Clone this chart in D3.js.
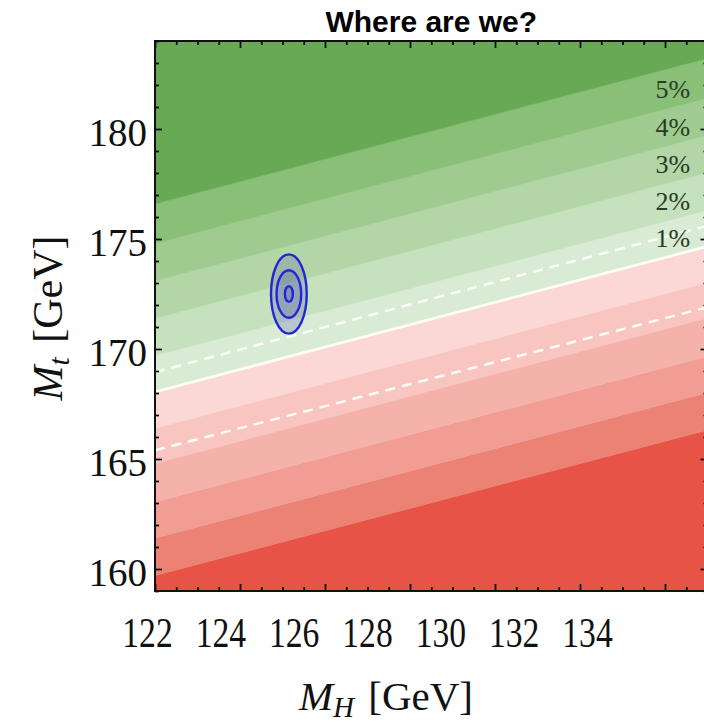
<!DOCTYPE html>
<html>
<head>
<meta charset="utf-8">
<script src="https://cdn.jsdelivr.net/npm/d3@7/dist/d3.min.js"></script>
<style>
  body { margin: 0; background: #fff; }
  svg { display: block; }
</style>
</head>
<body>
<svg id="chart" width="704" height="725"></svg>
<script>
// axis values
const mhDomain = [122, 135];
const mtDomain = [159, 184];
const mhTicks = [122, 124, 126, 128, 130, 132, 134];
const mtTicks = [160, 165, 170, 175, 180];

// contour lines: Mt at MH = 122, all with the same slope dMt/dMH
const contourSlope = 0.509;
const contourMtAt122 = [159.7, 161.4, 163.05, 164.8, 166.4, 168.05, 169.7, 171.4, 173.1, 174.8, 176.6];
const zeroContour = 5;
// band fills from bottom (red) to top (green)
const bandColors = ["#e75445", "#ec8273", "#f19d93", "#f5b2ab", "#f8c5c1", "#fbd7d5",
                    "#d9ebd4", "#c6e1bd", "#b3d6a6", "#a0cb90", "#89bf76", "#68aa54"];
const percentLabels = ["1%", "2%", "3%", "4%", "5%"];

// dashed uncertainty lines, Mt at MH = 122 and MH = 135
const dashedMtAt122 = [168.95, 165.4];
const dashedMtAt135 = [175.6, 171.9];

// measured point and its ellipses (half widths in GeV)
const pointMH = 125.15;
const pointMt = 172.5;
const ellipseRadMH = [0.42, 0.29, 0.094];
const ellipseRadMt = [1.8, 1.08, 0.36];

const svg = d3.select("#chart");

const x = d3.scaleLinear().domain(mhDomain).range([155, 707.5]);
const y = d3.scaleLinear().domain(mtDomain).range([591, 41]);
// the tick labels in the picture sit on their own, narrower spacing
const xLabel = d3.scaleLinear().domain([122, 134]).range([147, 587]);

const contourAt = (i, mh) => contourMtAt122[i] + contourSlope * (mh - 122);

svg.append("clipPath").attr("id", "plotclip")
  .append("rect")
  .attr("x", x(mhDomain[0])).attr("y", y(mtDomain[1]))
  .attr("width", x(mhDomain[1]) - x(mhDomain[0]))
  .attr("height", y(mtDomain[0]) - y(mtDomain[1]));

const plot = svg.append("g").attr("clip-path", "url(#plotclip)");

const poly = d3.line().x(d => x(d[0])).y(d => y(d[1]));

bandColors.forEach((c, i) => {
  const lo = mh => i === 0 ? mtDomain[0] - 10 : contourAt(i - 1, mh);
  const hi = mh => i === bandColors.length - 1 ? mtDomain[1] + 10 : contourAt(i, mh);
  const pts = [[mhDomain[0], lo(mhDomain[0])], [mhDomain[1], lo(mhDomain[1])],
               [mhDomain[1], hi(mhDomain[1])], [mhDomain[0], hi(mhDomain[0])]];
  plot.append("path")
    .attr("d", poly(pts) + "Z")
    .attr("fill", c)
    .attr("stroke", c)
    .attr("stroke-width", 0.6);
});

// zero line
plot.append("path")
  .attr("d", poly([[mhDomain[0], contourAt(zeroContour, mhDomain[0])],
                   [mhDomain[1], contourAt(zeroContour, mhDomain[1])]]))
  .attr("stroke", "#fdfdf6")
  .attr("stroke-width", 2.8)
  .attr("fill", "none");

dashedMtAt122.forEach((v, i) => {
  plot.append("path")
    .attr("d", poly([[mhDomain[0], v], [mhDomain[1], dashedMtAt135[i]]]))
    .attr("stroke", "#fdfdf8")
    .attr("stroke-width", 2.5)
    .attr("stroke-dasharray", "10,7")
    .attr("fill", "none");
});

// percent labels, each sitting in its band near the right edge
percentLabels.forEach((t, k) => {
  plot.append("text")
    .attr("x", x(134.59))
    .attr("y", y(contourAt(zeroContour + k, 134.59) + 0.58))
    .attr("text-anchor", "end")
    .attr("dominant-baseline", "central")
    .attr("font-family", "Liberation Serif, serif")
    .attr("font-size", 26)
    .attr("fill", "#263c26")
    .text(t);
});

// ellipses
ellipseRadMH.forEach((r, i) => {
  plot.append("ellipse")
    .attr("cx", x(pointMH))
    .attr("cy", y(pointMt))
    .attr("rx", x(pointMH + r) - x(pointMH))
    .attr("ry", y(pointMt) - y(pointMt + ellipseRadMt[i]))
    .attr("fill", "rgba(75,85,175,0.24)")
    .attr("stroke", "#2424d8")
    .attr("stroke-width", 2.4);
});

// ticks (inward, all four sides)
const minorX = d3.range(122, 135.01, 0.5).filter(v => v % 2 !== 0);
const minorY = d3.range(159, 184.01, 1).filter(v => v % 5 !== 0);
const majorX = d3.range(122, 135.01, 2);

function tickAxis(axisFn, scale, values, size, tx, ty) {
  const g = svg.append("g")
    .attr("transform", `translate(${tx},${ty})`)
    .call(axisFn(scale).tickValues(values).tickSize(size).tickSizeOuter(0).tickFormat(""));
  g.select(".domain").remove();
  g.selectAll("line").attr("stroke", "#000").attr("stroke-width", 1.7);
}

const x0 = x(mhDomain[0]), x1 = x(mhDomain[1]);
const y0 = y(mtDomain[0]), y1 = y(mtDomain[1]);
tickAxis(d3.axisBottom, x, majorX, -7, 0, y0);
tickAxis(d3.axisBottom, x, minorX, -4, 0, y0);
tickAxis(d3.axisTop, x, majorX, -7, 0, y1);
tickAxis(d3.axisTop, x, minorX, -4, 0, y1);
tickAxis(d3.axisLeft, y, mtTicks, -7, x0, 0);
tickAxis(d3.axisLeft, y, minorY, -4, x0, 0);
tickAxis(d3.axisRight, y, mtTicks, -7, x1, 0);
tickAxis(d3.axisRight, y, minorY, -4, x1, 0);

svg.append("rect")
  .attr("x", x0).attr("y", y1)
  .attr("width", x1 - x0).attr("height", y0 - y1)
  .attr("fill", "none")
  .attr("stroke", "#111")
  .attr("stroke-width", 2);

// tick labels
const yAx = svg.append("g")
  .attr("transform", `translate(${x0},0)`)
  .call(d3.axisLeft(y).tickValues(mtTicks).tickSize(0).tickPadding(8));
yAx.select(".domain").remove();
yAx.selectAll("text")
  .attr("dy", "0.42em")
  .attr("font-family", "Liberation Serif, serif")
  .attr("font-size", 39)
  .attr("fill", "#111");

const xAx = svg.append("g")
  .attr("transform", "translate(0,647)")
  .call(d3.axisBottom(xLabel).tickValues(mhTicks).tickSize(0));
xAx.select(".domain").remove();
xAx.selectAll("text")
  .attr("y", 0).attr("dy", null)
  .attr("transform", "scale(0.8,1)")
  .attr("font-family", "Liberation Serif, serif")
  .attr("font-size", 42)
  .attr("fill", "#111");

// title and axis names
svg.append("text")
  .attr("x", (x0 + x1) / 2)
  .attr("y", 32)
  .attr("text-anchor", "middle")
  .attr("font-family", "Liberation Sans, Arial, sans-serif")
  .attr("font-weight", "bold")
  .attr("font-size", 30)
  .attr("fill", "#000")
  .text("Where are we?");

function massLabel(sel, sub) {
  sel.attr("font-family", "Liberation Serif, serif").attr("fill", "#111");
  sel.append("tspan").attr("font-style", "italic").text("M");
  sel.append("tspan").attr("font-style", "italic").attr("font-size", "70%")
    .attr("dy", "0.25em").text(sub);
  sel.append("tspan").attr("dy", "-0.18em").attr("dx", "0.35em").text("[GeV]");
}

const xt = svg.append("text")
  .attr("x", 386).attr("y", 710)
  .attr("text-anchor", "middle")
  .attr("font-size", 41);
massLabel(xt, "H");

const yt = svg.append("text")
  .attr("transform", "translate(62,318) rotate(-90)")
  .attr("text-anchor", "middle")
  .attr("font-size", 42);
massLabel(yt, "t");
</script>
</body>
</html>
